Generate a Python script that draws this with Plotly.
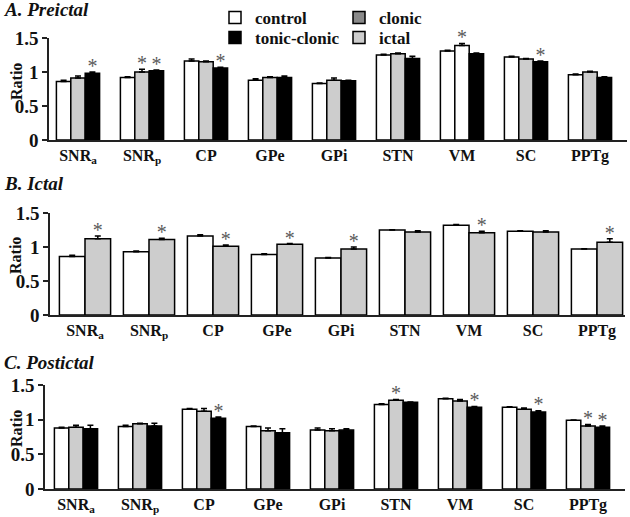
import plotly.graph_objects as go

regions = ["SNR<sub>a</sub>", "SNR<sub>p</sub>", "CP", "GPe", "GPi", "STN", "VM", "SC", "PPTg"]

# Panel A: Preictal (control, clonic, tonic-clonic)
a_control = [0.86, 0.92, 1.16, 0.88, 0.83, 1.25, 1.31, 1.22, 0.96]
a_control_err = [0.02, 0.01, 0.03, 0.02, 0.01, 0.01, 0.01, 0.01, 0.01]
a_clonic = [0.91, 1.00, 1.15, 0.92, 0.88, 1.27, 1.39, 1.19, 1.00]
a_clonic_err = [0.03, 0.04, 0.01, 0.01, 0.03, 0.01, 0.03, 0.01, 0.01]
a_tonic = [0.98, 1.02, 1.06, 0.92, 0.87, 1.20, 1.27, 1.15, 0.92]
a_tonic_err = [0.02, 0.01, 0.01, 0.02, 0.01, 0.03, 0.01, 0.01, 0.01]
a_stars = [(2, 0), (1, 1), (2, 1), (2, 2), (1, 6), (2, 7)]

# Panel B: Ictal (control, ictal)
b_control = [0.86, 0.93, 1.16, 0.89, 0.84, 1.25, 1.32, 1.23, 0.97]
b_control_err = [0.02, 0.01, 0.02, 0.01, 0.005, 0.005, 0.01, 0.01, 0.005]
b_ictal = [1.12, 1.11, 1.01, 1.04, 0.97, 1.22, 1.21, 1.22, 1.07]
b_ictal_err = [0.04, 0.02, 0.02, 0.01, 0.03, 0.02, 0.02, 0.02, 0.05]
b_stars = [(1, 0), (1, 1), (1, 2), (1, 3), (1, 4), (1, 6), (1, 8)]

# Panel C: Postictal (control, clonic, tonic-clonic)
c_control = [0.88, 0.90, 1.15, 0.90, 0.85, 1.22, 1.30, 1.18, 0.99]
c_control_err = [0.01, 0.02, 0.01, 0.01, 0.03, 0.01, 0.01, 0.005, 0.005]
c_clonic = [0.89, 0.94, 1.12, 0.84, 0.84, 1.28, 1.27, 1.15, 0.91]
c_clonic_err = [0.03, 0.01, 0.04, 0.04, 0.03, 0.01, 0.02, 0.02, 0.02]
c_tonic = [0.87, 0.91, 1.02, 0.81, 0.85, 1.25, 1.18, 1.11, 0.89]
c_tonic_err = [0.05, 0.04, 0.02, 0.06, 0.02, 0.005, 0.01, 0.02, 0.02]
c_stars = [(2, 2), (1, 5), (2, 6), (2, 7), (1, 8), (2, 8)]

yticks = [0, 0.5, 1, 1.5]
ytick_labels = ["0", "0.5", "1", "1.5"]

legend_names = ["control", "tonic-clonic", "clonic", "ictal"]

WHITE = "#ffffff"
LIGHT = "#cdcdcd"
DARK = "#8a8a8a"
BLACK = "#000000"
STAR = "#5a5a5a"
FONT = "Liberation Serif"

W, H = 630, 517
SPACING = 64.0

fig = go.Figure()

def px_x(p):
    return p / W

def px_y(p):
    return 1 - p / H

panels = [
    dict(sfx="", L=49, R=627, c0=78, y0=140, y15=38,
         series=[(a_control, a_control_err, WHITE),
                 (a_clonic, a_clonic_err, [LIGHT] * 6 + [WHITE] + [LIGHT] * 2),
                 (a_tonic, a_tonic_err, BLACK)],
         stars=a_stars, w=0.225, offs=[-0.3375, -0.1125, 0.1125]),
    dict(sfx="2", L=50, R=625, c0=85, y0=315, y15=213,
         series=[(b_control, b_control_err, WHITE),
                 (b_ictal, b_ictal_err, LIGHT)],
         stars=b_stars, w=0.4, offs=[-0.4, 0.0]),
    dict(sfx="3", L=45, R=625, c0=76, y0=489, y15=385,
         series=[(c_control, c_control_err, WHITE),
                 (c_clonic, c_clonic_err, LIGHT),
                 (c_tonic, c_tonic_err, BLACK)],
         stars=c_stars, w=0.225, offs=[-0.3375, -0.1125, 0.1125]),
]

xs = list(range(len(regions)))

for p in panels:
    xa = "x" + p["sfx"]
    ya = "y" + p["sfx"]
    for (vals, errs, col), off in zip(p["series"], p["offs"]):
        fig.add_trace(go.Bar(
            x=xs, y=vals, width=p["w"], offset=off,
            marker=dict(color=col, line=dict(color="black", width=1.5)),
            error_y=dict(type="data", array=errs, arrayminus=[0] * len(errs),
                         symmetric=False, color="black", thickness=1.5, width=3),
            xaxis=xa, yaxis=ya, showlegend=False, hoverinfo="skip",
        ))
    sx, sy = [], []
    for si, ci in p["stars"]:
        vals, errs, _ = p["series"][si]
        sx.append(ci + p["offs"][si] + p["w"] / 2)
        sy.append(vals[ci] + errs[ci] + 0.06)
    fig.add_trace(go.Scatter(
        x=sx, y=sy, mode="text", text=["*"] * len(sx),
        textfont=dict(family=FONT, size=20, color=STAR),
        textposition="middle center", cliponaxis=False,
        xaxis=xa, yaxis=ya, showlegend=False, hoverinfo="skip",
    ))
    xr = [(p["L"] - p["c0"]) / SPACING, (p["R"] - p["c0"]) / SPACING]
    fig.layout["xaxis" + p["sfx"]] = dict(
        domain=[px_x(p["L"]), px_x(p["R"])], range=xr, anchor=ya,
        tickvals=xs, ticktext=regions, ticks="", showline=True,
        linecolor="#222", linewidth=1.5, showgrid=False, zeroline=False,
        tickfont=dict(family=FONT, size=16, color="#111", weight="bold"),
        fixedrange=True, automargin=False,
    )
    fig.layout["yaxis" + p["sfx"]] = dict(
        domain=[px_y(p["y0"]), px_y(p["y15"])], range=[0, 1.5], anchor=xa,
        tickvals=yticks, ticktext=ytick_labels, ticks="outside", ticklen=5,
        tickwidth=1.5, tickcolor="#222", showline=True, linecolor="#222",
        linewidth=1.5, showgrid=False, zeroline=False,
        tickfont=dict(family=FONT, size=19, color="#111", weight="bold"),
        fixedrange=True, automargin=False,
    )

# legend entries, one legend per entry so the 2x2 grid is placed exactly
legend_cols = [WHITE, BLACK, DARK, LIGHT]
legend_pos = [(215, 0), (215, 20), (339, 0), (339, 20)]
legend_ids = ["legend", "legend2", "legend3", "legend4"]
legend_common = dict(orientation="v", xanchor="left", yanchor="top", traceorder="normal",
                     font=dict(family=FONT, size=17, color="#111", weight="bold"),
                     bgcolor="rgba(0,0,0,0)", tracegroupgap=0, itemwidth=30)
legend_layout = {}
for name, col, lid, (lx, ly) in zip(legend_names, legend_cols, legend_ids, legend_pos):
    fig.add_trace(go.Bar(x=[None], y=[None], name=name, legend=lid,
                         marker=dict(color=col, line=dict(color="black", width=1.5)),
                         xaxis="x", yaxis="y", showlegend=True))
    legend_layout[lid] = dict(x=px_x(lx), y=px_y(ly), **legend_common)

annots = []
for txt, yc in [("A. Preictal", 9), ("B. Ictal", 183), ("C. Postictal", 362)]:
    annots.append(dict(text="<b><i>" + txt + "</i></b>", x=px_x(2), y=px_y(yc),
                       xref="paper", yref="paper", xanchor="left", yanchor="middle",
                       showarrow=False, font=dict(family=FONT, size=19, color="#111")))
for yc in [82, 256, 429]:
    annots.append(dict(text="<b>Ratio</b>", x=px_x(16), y=px_y(yc), xref="paper", yref="paper",
                       xanchor="center", yanchor="middle", textangle=-90, showarrow=False,
                       font=dict(family=FONT, size=16, color="#111")))

fig.update_layout(
    width=W, height=H, margin=dict(l=0, r=0, t=0, b=0, autoexpand=False),
    paper_bgcolor="white", plot_bgcolor="white",
    annotations=annots,
    showlegend=True,
    **legend_layout,
)

fig.write_html("out.html", config={"displayModeBar": False},
               post_script="document.body.style.margin='0px';document.body.style.padding='0px';")
